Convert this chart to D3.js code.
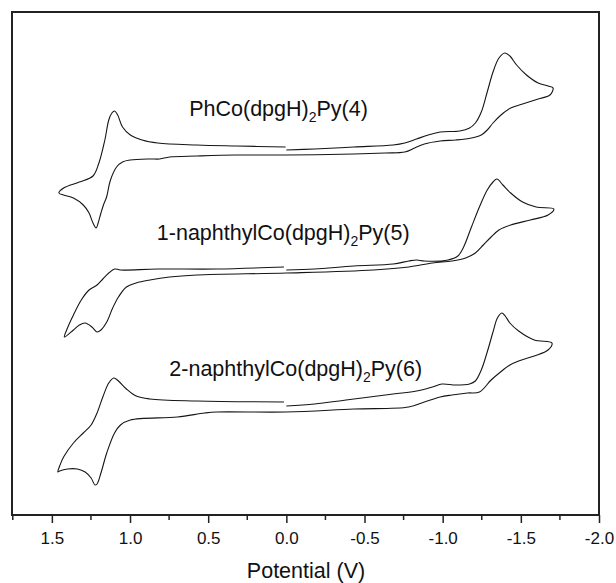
<!DOCTYPE html>
<html>
<head>
<meta charset="utf-8">
<script src="https://cdn.jsdelivr.net/npm/d3@7"></script>
<style>
  body { margin: 0; background: #fff; }
  text { font-family: Arial, "Liberation Sans", sans-serif; fill: #111; }
</style>
</head>
<body>
<div id="chart"></div>
<script>
// potential (V) and current (a.u., offset per trace)
// each trace starts at 0.0 V, runs to the negative vertex, back to the positive vertex, and ends at 0.0 V
const cv4Potential = [0.0, -0.181, -0.432, -0.683, -0.758, -0.833, -0.908, -0.984, -1.109, -1.172, -1.209, -1.247, -1.285, -1.322, -1.36, -1.398, -1.43, -1.473, -1.536, -1.611, -1.674, -1.706,
  -1.686, -1.611, -1.511, -1.435, -1.373, -1.322, -1.285, -1.247, -1.184, -1.084, -0.984, -0.883, -0.821, -0.758, -0.632, -0.432, 0.0, 0.321, 0.572, 0.747, 0.81, 0.873, 0.998, 1.048, 1.086, 1.125, 1.15, 1.17, 1.186, 1.204, 1.217, 1.237, 1.262, 1.299, 1.362, 1.425, 1.455,
  1.425, 1.324, 1.237, 1.199, 1.161, 1.136, 1.116, 1.099, 1.079, 1.048, 0.998, 0.923, 0.823, 0.572, 0.321, 0.005];
const cv4Current = [36.5, 36.6, 36.8, 37.0, 37.2, 37.6, 38.0, 38.3, 38.4, 38.7, 39.2, 40.3, 42.3, 44.3, 45.7, 46.2, 45.9, 45.0, 44.0, 43.2, 42.9, 42.7,
  42.0, 41.6, 41.1, 40.7, 40.0, 39.2, 38.5, 38.0, 37.7, 37.5, 37.4, 37.1, 36.7, 36.3, 36.2, 36.1, 36.0, 36.0, 35.9, 35.8, 35.6, 35.6, 35.5, 35.3, 34.8, 33.5, 31.8, 31.0, 30.2, 29.2, 28.7, 29.2, 30.2, 31.0, 31.7, 32.0, 32.2,
  32.7, 33.3, 33.9, 35.2, 37.5, 39.5, 40.2, 40.4, 40.0, 38.8, 38.0, 37.5, 37.2, 37.0, 36.9, 36.8];

const cv5Potential = [0.0, -0.181, -0.432, -0.683, -0.783, -0.833, -0.883, -1.034, -1.097, -1.134, -1.184, -1.235, -1.285, -1.322, -1.347, -1.385, -1.435, -1.511, -1.598, -1.711,
  -1.674, -1.561, -1.435, -1.36, -1.31, -1.26, -1.209, -1.147, -1.059, -0.934, -0.783, -0.557, 0.0, 0.572, 0.747, 0.873, 0.961, 1.023, 1.074, 1.111, 1.149, 1.186, 1.211, 1.244, 1.287, 1.324, 1.362, 1.42,
  1.4, 1.362, 1.312, 1.262, 1.211, 1.174, 1.136, 1.099, 1.061, 0.823, 0.446, 0.015];
const cv5Current = [24.5, 24.6, 24.9, 25.1, 25.4, 25.5, 25.4, 25.5, 25.9, 26.8, 28.8, 30.8, 32.5, 33.3, 33.6, 33.0, 32.2, 31.3, 30.8, 30.6,
  30.0, 29.5, 29.0, 28.5, 27.8, 27.0, 26.2, 25.7, 25.4, 25.2, 24.8, 24.5, 24.2, 24.0, 23.8, 23.5, 23.2, 22.8, 21.8, 20.7, 19.3, 18.5, 18.3, 18.8, 19.2, 19.0, 18.5, 17.8,
  18.7, 20.0, 21.5, 22.5, 23.0, 23.6, 24.2, 24.6, 24.5, 24.6, 24.6, 24.8];

const cv6Potential = [0.0, -0.181, -0.382, -0.683, -0.833, -0.934, -0.996, -1.084, -1.172, -1.209, -1.247, -1.285, -1.322, -1.35, -1.378, -1.4, -1.43, -1.486, -1.586, -1.699,
  -1.674, -1.586, -1.486, -1.43, -1.37, -1.31, -1.235, -1.159, -1.059, -0.984, -0.883, -0.783, -0.432, 0.0, 0.446, 0.522, 0.697, 0.998, 1.061, 1.099, 1.149, 1.186, 1.211, 1.224, 1.249, 1.287, 1.337, 1.4, 1.45, 1.462,
  1.45, 1.425, 1.362, 1.299, 1.249, 1.211, 1.174, 1.136, 1.104, 1.074, 1.023, 0.961, 0.873, 0.572, 0.015];
const cv6Current = [10.9, 11.1, 11.5, 12.1, 12.4, 12.8, 13.1, 13.0, 13.1, 13.4, 14.5, 16.3, 18.3, 19.7, 20.2, 19.9, 19.2, 18.4, 17.5, 17.2,
  16.5, 15.9, 15.4, 15.0, 14.3, 13.5, 12.3, 12.2, 12.0, 11.8, 11.3, 10.8, 10.6, 10.3, 10.3, 10.2, 9.8, 9.5, 9.0, 8.2, 6.2, 4.2, 3.1, 3.0, 3.7, 4.3, 4.6, 4.6, 4.4, 4.3,
  4.9, 5.8, 7.2, 8.2, 9.0, 10.2, 11.8, 13.2, 13.7, 13.4, 12.6, 11.9, 11.6, 11.4, 11.3];

const traceLabels = ["PhCo(dpgH)|2|Py(4)", "1-naphthylCo(dpgH)|2|Py(5)", "2-naphthylCo(dpgH)|2|Py(6)"];
// label anchor: potential and current of the label centre baseline
const labelPotential = [0.05, 0.02, -0.06];
const labelCurrent = [39.9, 27.5, 13.9];

const majorTicks = [1.5, 1.0, 0.5, 0.0, -0.5, -1.0, -1.5, -2.0];
const minorTicks = [1.75, 1.25, 0.75, 0.25, -0.25, -0.75, -1.25, -1.75];

const plotLeft = 12, plotRight = 599, plotTop = 12, plotBottom = 515;

const svg = d3.select("#chart")
  .append("svg")
  .attr("width", 616)
  .attr("height", 583);

const x = d3.scaleLinear().domain([1.755, -2.0]).range([plotLeft, plotRight]);
const y = d3.scaleLinear().domain([0, 50.3]).range([plotBottom, plotTop]);

const line = d3.line()
  .x((d) => x(d[0]))
  .y((d) => y(d[1]))
  .curve(d3.curveCatmullRom.alpha(0.5));

const traces = [
  d3.zip(cv4Potential, cv4Current),
  d3.zip(cv5Potential, cv5Current),
  d3.zip(cv6Potential, cv6Current),
];

svg.selectAll(".trace")
  .data(traces)
  .enter()
  .append("path")
  .attr("class", "trace")
  .attr("fill", "none")
  .attr("stroke", "#151515")
  .attr("stroke-width", 1.1)
  .attr("d", line);

// frame
svg.append("rect")
  .attr("x", plotLeft)
  .attr("y", plotTop)
  .attr("width", plotRight - plotLeft)
  .attr("height", plotBottom - plotTop)
  .attr("fill", "none")
  .attr("stroke", "#222")
  .attr("stroke-width", 2);

// bottom axis
const axis = svg.append("g")
  .attr("transform", `translate(0,${plotBottom})`)
  .call(d3.axisBottom(x).tickValues(majorTicks).tickSize(8).tickPadding(9).tickFormat((d) => d.toFixed(1)));
axis.select(".domain").remove();
axis.selectAll("line").attr("stroke", "#222").attr("stroke-width", 1.5);
axis.selectAll("text").style("font-size", "17px").attr("fill", "#111");

svg.append("g")
  .attr("transform", `translate(0,${plotBottom})`)
  .selectAll("line")
  .data(minorTicks)
  .enter()
  .append("line")
  .attr("x1", (d) => x(d))
  .attr("x2", (d) => x(d))
  .attr("y1", 0)
  .attr("y2", 5)
  .attr("stroke", "#222")
  .attr("stroke-width", 1.5);

svg.append("text")
  .attr("x", 306)
  .attr("y", 578)
  .attr("text-anchor", "middle")
  .style("font-size", "21.5px")
  .text("Potential (V)");

// trace labels with subscript
traceLabels.forEach((lab, i) => {
  const parts = lab.split("|");
  const t = svg.append("text")
    .attr("x", x(labelPotential[i]))
    .attr("y", y(labelCurrent[i]))
    .attr("text-anchor", "middle")
    .style("font-size", "21.5px");
  t.append("tspan").text(parts[0]);
  t.append("tspan").attr("dy", 6).style("font-size", "14px").text(parts[1]);
  t.append("tspan").attr("dy", -6).text(parts[2]);
});
</script>
</body>
</html>
